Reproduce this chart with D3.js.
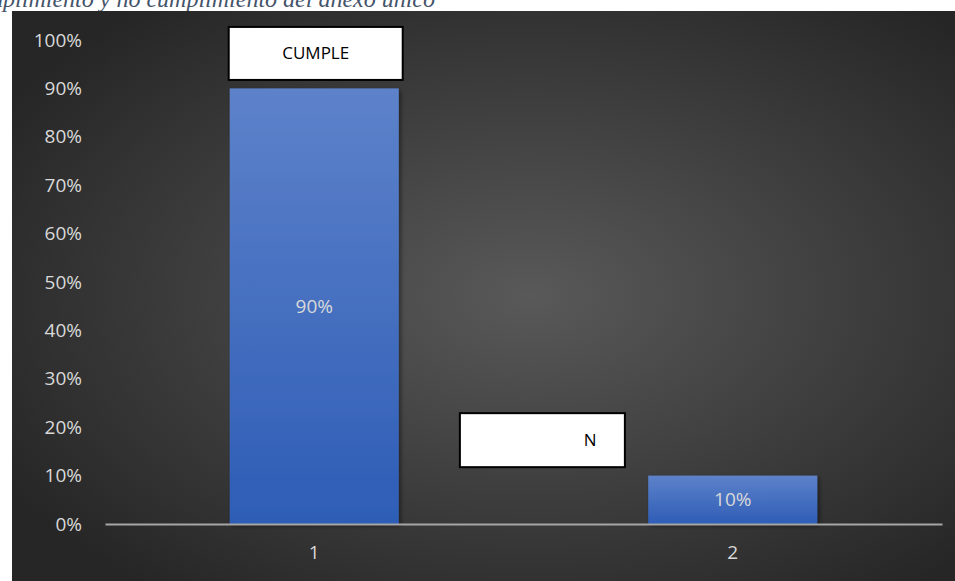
<!DOCTYPE html>
<html>
<head>
<meta charset="utf-8">
<script src="https://cdn.jsdelivr.net/npm/d3@7"></script>
<style>
  html, body { margin: 0; padding: 0; background: #ffffff; }
  svg { display: block; }
</style>
</head>
<body>
<div id="chart"></div>
<script>
// data
const categories = ['1', '2'];
const values = [0.90, 0.10];
const yTicks = [0, 0.1, 0.2, 0.3, 0.4, 0.5, 0.6, 0.7, 0.8, 0.9, 1.0];
const boxLabels = ['CUMPLE', 'N'];
const titleText = 'Cumplimiento y no cumplimiento del anexo único';

const width = 955, height = 581;
const labelFont = '"Open Sans", "Noto Sans", sans-serif';
const svg = d3.select('#chart').append('svg')
    .attr('width', width)
    .attr('height', height);

const defs = svg.append('defs');
const bg = defs.append('radialGradient')
    .attr('id', 'bg')
    .attr('cx', '55%').attr('cy', '50%').attr('r', '65%');
bg.append('stop').attr('offset', '0%').attr('stop-color', '#595959');
bg.append('stop').attr('offset', '100%').attr('stop-color', '#262626');

const barGrad = defs.append('linearGradient')
    .attr('id', 'barGrad')
    .attr('x1', 0).attr('y1', 0).attr('x2', 0).attr('y2', 1);
barGrad.append('stop').attr('offset', '0%').attr('stop-color', '#5d82ca');
barGrad.append('stop').attr('offset', '100%').attr('stop-color', '#2e5db6');

const shadow = defs.append('filter').attr('id', 'shadow')
    .attr('x', '-10%').attr('y', '-10%').attr('width', '130%').attr('height', '130%');
shadow.append('feDropShadow')
    .attr('dx', 2).attr('dy', 2).attr('stdDeviation', 2)
    .attr('flood-color', '#000').attr('flood-opacity', 0.45);

// title, cut off at the top-left like the reference
svg.append('text')
    .attr('x', 435)
    .attr('y', 7)
    .attr('text-anchor', 'end')
    .style('font-family', '"Liberation Serif", "DejaVu Serif", serif')
    .style('font-style', 'italic')
    .style('font-size', '24px')
    .style('fill', '#44546a')
    .text(titleText);

// chart panel
const panel = {x: 12, y: 11};
svg.append('rect')
    .attr('x', panel.x).attr('y', panel.y)
    .attr('width', width - panel.x).attr('height', height - panel.y)
    .attr('fill', 'url(#bg)');

const plot = {left: 105, right: 942, top: 40, bottom: 524};

const xScale = d3.scaleBand()
    .domain(categories)
    .range([plot.left, plot.right])
    .padding(0);

const yScale = d3.scaleLinear()
    .domain([0, 1])
    .range([plot.bottom, plot.top]);

const barWidth = xScale.bandwidth() * 0.404;
const chart = svg.append('g');

// y axis labels
const yAxis = d3.axisLeft(yScale)
    .tickValues(yTicks)
    .tickFormat(d3.format('.0%'))
    .tickSize(0)
    .tickPadding(0);
const yG = chart.append('g')
    .attr('transform', `translate(82, 0)`)
    .call(yAxis);
yG.select('.domain').remove();
yG.selectAll('text')
    .style('font-family', labelFont)
    .style('font-size', '19px')
    .style('fill', '#d9d9d9');

// bars
chart.selectAll('.bar')
    .data(values)
    .enter()
    .append('rect')
    .attr('class', 'bar')
    .attr('x', (d, i) => xScale(categories[i]) + (xScale.bandwidth() - barWidth) / 2)
    .attr('y', d => yScale(d))
    .attr('width', barWidth)
    .attr('height', d => yScale(0) - yScale(d))
    .attr('fill', 'url(#barGrad)')
    .attr('filter', 'url(#shadow)');

// value labels in the middle of bars
chart.selectAll('.val')
    .data(values)
    .enter()
    .append('text')
    .attr('class', 'val')
    .attr('x', (d, i) => xScale(categories[i]) + xScale.bandwidth() / 2)
    .attr('y', d => yScale(d / 2))
    .attr('dy', '0.35em')
    .attr('text-anchor', 'middle')
    .style('font-family', labelFont)
    .style('font-size', '19px')
    .style('fill', '#d9d9d9')
    .text(d => d3.format('.0%')(d));

// x axis
const xAxis = d3.axisBottom(xScale).tickSize(0).tickPadding(22);
const xG = chart.append('g')
    .attr('transform', `translate(0, ${plot.bottom})`)
    .call(xAxis);
xG.select('.domain')
    .attr('stroke', '#a6a6a6')
    .attr('stroke-width', 2);
xG.selectAll('text')
    .style('font-family', labelFont)
    .style('font-size', '19px')
    .style('fill', '#d9d9d9');

// white text boxes floating over the chart
const c1 = xScale(categories[0]);
const boxes = [
    {x: c1 + (xScale.bandwidth() - barWidth) / 2 - 1, y: yScale(1.027), w: 174, h: 53, tx: 0.5},
    {x: c1 + xScale.bandwidth() * 0.848, y: yScale(0.229), w: 165, h: 54, tx: 0.79}
];
const boxG = chart.selectAll('.box')
    .data(boxes)
    .enter()
    .append('g')
    .attr('class', 'box');
boxG.append('rect')
    .attr('x', d => d.x)
    .attr('y', d => d.y)
    .attr('width', d => d.w)
    .attr('height', d => d.h)
    .attr('fill', '#ffffff')
    .attr('stroke', '#000000')
    .attr('stroke-width', 2);
boxG.append('text')
    .attr('x', d => d.x + d.w * d.tx)
    .attr('y', d => d.y + d.h / 2)
    .attr('dy', '0.35em')
    .attr('text-anchor', 'middle')
    .style('font-family', labelFont)
    .style('font-size', '17px')
    .style('fill', '#000000')
    .text((d, i) => boxLabels[i]);
</script>
</body>
</html>
